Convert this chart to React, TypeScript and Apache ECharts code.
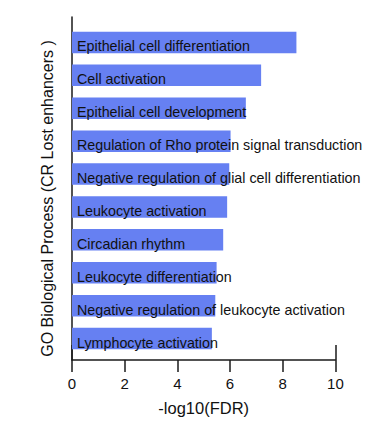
import React, { useEffect, useRef } from "react";
import * as echarts from "echarts";

const categories: string[] = [
  "Epithelial cell differentiation",
  "Cell activation",
  "Epithelial cell development",
  "Regulation of Rho protein signal transduction",
  "Negative regulation of glial cell differentiation",
  "Leukocyte activation",
  "Circadian rhythm",
  "Leukocyte differentiation",
  "Negative regulation of leukocyte activation",
  "Lymphocyte activation",
];
const values: number[] = [8.52, 7.18, 6.6, 6.02, 5.97, 5.89, 5.74, 5.49, 5.44, 5.31];
const xTicks = { min: 0, max: 10, interval: 2 };
const xName = "-log10(FDR)";
const yName = "GO Biological Process (CR Lost enhancers )";

const FONT = "'Liberation Sans', Arial, sans-serif";

export default function App() {
  const ref = useRef<HTMLDivElement>(null);
  useEffect(() => {
    if (!ref.current) return;
    const chart = echarts.init(ref.current, undefined, { renderer: "svg" });
    chart.setOption({
      animation: false,
      backgroundColor: "#ffffff",
      textStyle: { fontFamily: FONT },
      grid: [
        { left: 72, right: 35.6, top: 26, bottom: 66 },
        { left: 72, right: 35.6, top: 17, bottom: 61 },
      ],
      xAxis: [
        { type: "value", gridIndex: 0, min: xTicks.min, max: xTicks.max, show: false },
        {
          type: "value",
          gridIndex: 1,
          position: "bottom",
          min: xTicks.min,
          max: xTicks.max,
          interval: xTicks.interval,
          axisLine: { show: true, lineStyle: { color: "#1a1a1a", width: 1.5 } },
          axisTick: { show: true, length: 12, lineStyle: { color: "#1a1a1a", width: 1.5 } },
          axisLabel: { color: "#111", fontSize: 15, fontFamily: FONT, margin: 16 },
          splitLine: { show: false },
          name: xName,
          nameLocation: "middle",
          nameGap: 39,
          nameTextStyle: { color: "#111", fontSize: 16.5, fontFamily: FONT },
        },
        {
          type: "value",
          gridIndex: 1,
          position: "bottom",
          min: xTicks.min,
          max: xTicks.max,
          interval: xTicks.max - xTicks.min,
          axisLine: { show: false },
          axisTick: { show: true, inside: true, length: 15, lineStyle: { color: "#1a1a1a", width: 1.5 } },
          axisLabel: { show: false },
          splitLine: { show: false },
        },
      ],
      yAxis: [
        { type: "category", gridIndex: 0, data: categories, inverse: true, show: false },
        {
          type: "value",
          gridIndex: 1,
          min: 0,
          max: 1,
          axisLine: { show: true, lineStyle: { color: "#1a1a1a", width: 1.5 } },
          axisTick: { show: false },
          axisLabel: { show: false },
          splitLine: { show: false },
          name: yName,
          nameLocation: "middle",
          nameGap: 17,
          nameTextStyle: {
            color: "#111",
            fontSize: 16,
            fontFamily: FONT,
            padding: [0, 20, 0, 0],
          },
        },
      ],
      series: [
        {
          type: "bar",
          xAxisIndex: 0,
          yAxisIndex: 0,
          data: values,
          barWidth: 21.5,
          itemStyle: { color: "#6680f2" },
          label: {
            show: true,
            position: "insideLeft",
            distance: 5,
            offset: [0, 4],
            formatter: (p: any) => categories[p.dataIndex],
            color: "#111",
            fontSize: 14.3,
            fontFamily: FONT,
          },
        },
      ],
    });
    return () => chart.dispose();
  }, []);
  return (
    <div
      ref={ref}
      style={{ position: "fixed", left: 0, top: 0, width: 371, height: 421 }}
    />
  );
}
